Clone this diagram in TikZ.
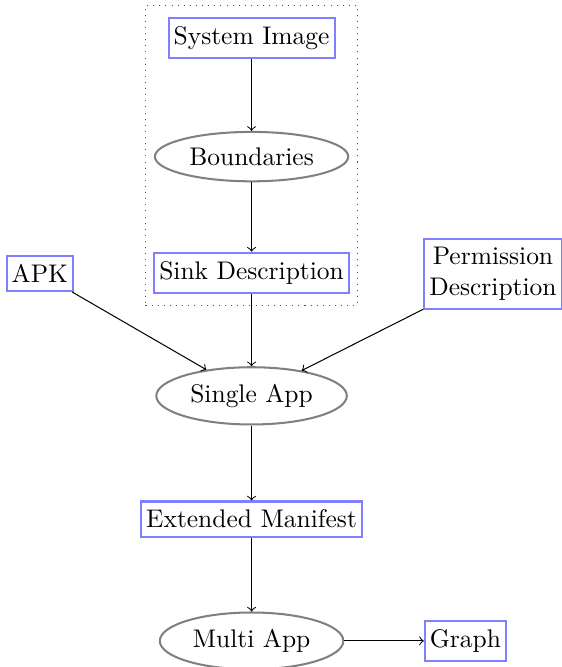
\documentclass[tikz,border=0pt]{standalone}
\usetikzlibrary{shapes.geometric}
\usetikzlibrary{fit}
\begin{document}
\begin{tikzpicture}[box/.style = {draw=blue!50, thick, fill=white, inner xsep=2pt},
    oval/.style = {ellipse, draw=gray, thick, inner xsep=2.4pt}]
    \useasboundingbox (0,0) rectangle (7.75,-9.20);
    % analysis inputs
    \node[box] (sysimg) at (3.47,-0.52) {System Image};
    \node[oval] (bound) at (3.47,-2.16) {Boundaries};
    \node[box] (sink) at (3.47,-3.76) {Sink Description};
    \node[draw=black!70, dotted, inner xsep=3pt, inner ysep=4.5pt, fit=(sysimg) (bound) (sink)] (frame) {};
    \node[box] (apk) at (0.55,-3.77) {APK};
    \node[box, align=center] (perm) at (6.80,-3.78) {Permission\\Description};
    % analysis steps
    \node[oval] (single) at (3.47,-5.46) {Single App};
    \node[box] (manif) at (3.47,-7.16) {Extended Manifest};
    \node[oval] (multi) at (3.47,-8.84) {Multi App};
    \node[box] (graph) at (6.42,-8.84) {Graph};
    %
    \draw [->] (sysimg) -- (bound);
    \draw [->] (bound) -- (sink);
    \draw [->] (sink) -- (single);
    \draw [->] (apk) -- (single);
    \draw [->] (perm) -- (single);
    \draw [->] (single) -- (manif);
    \draw [->] (manif) -- (multi);
    \draw [->] (multi) -- (graph);
\end{tikzpicture}
\end{document}
